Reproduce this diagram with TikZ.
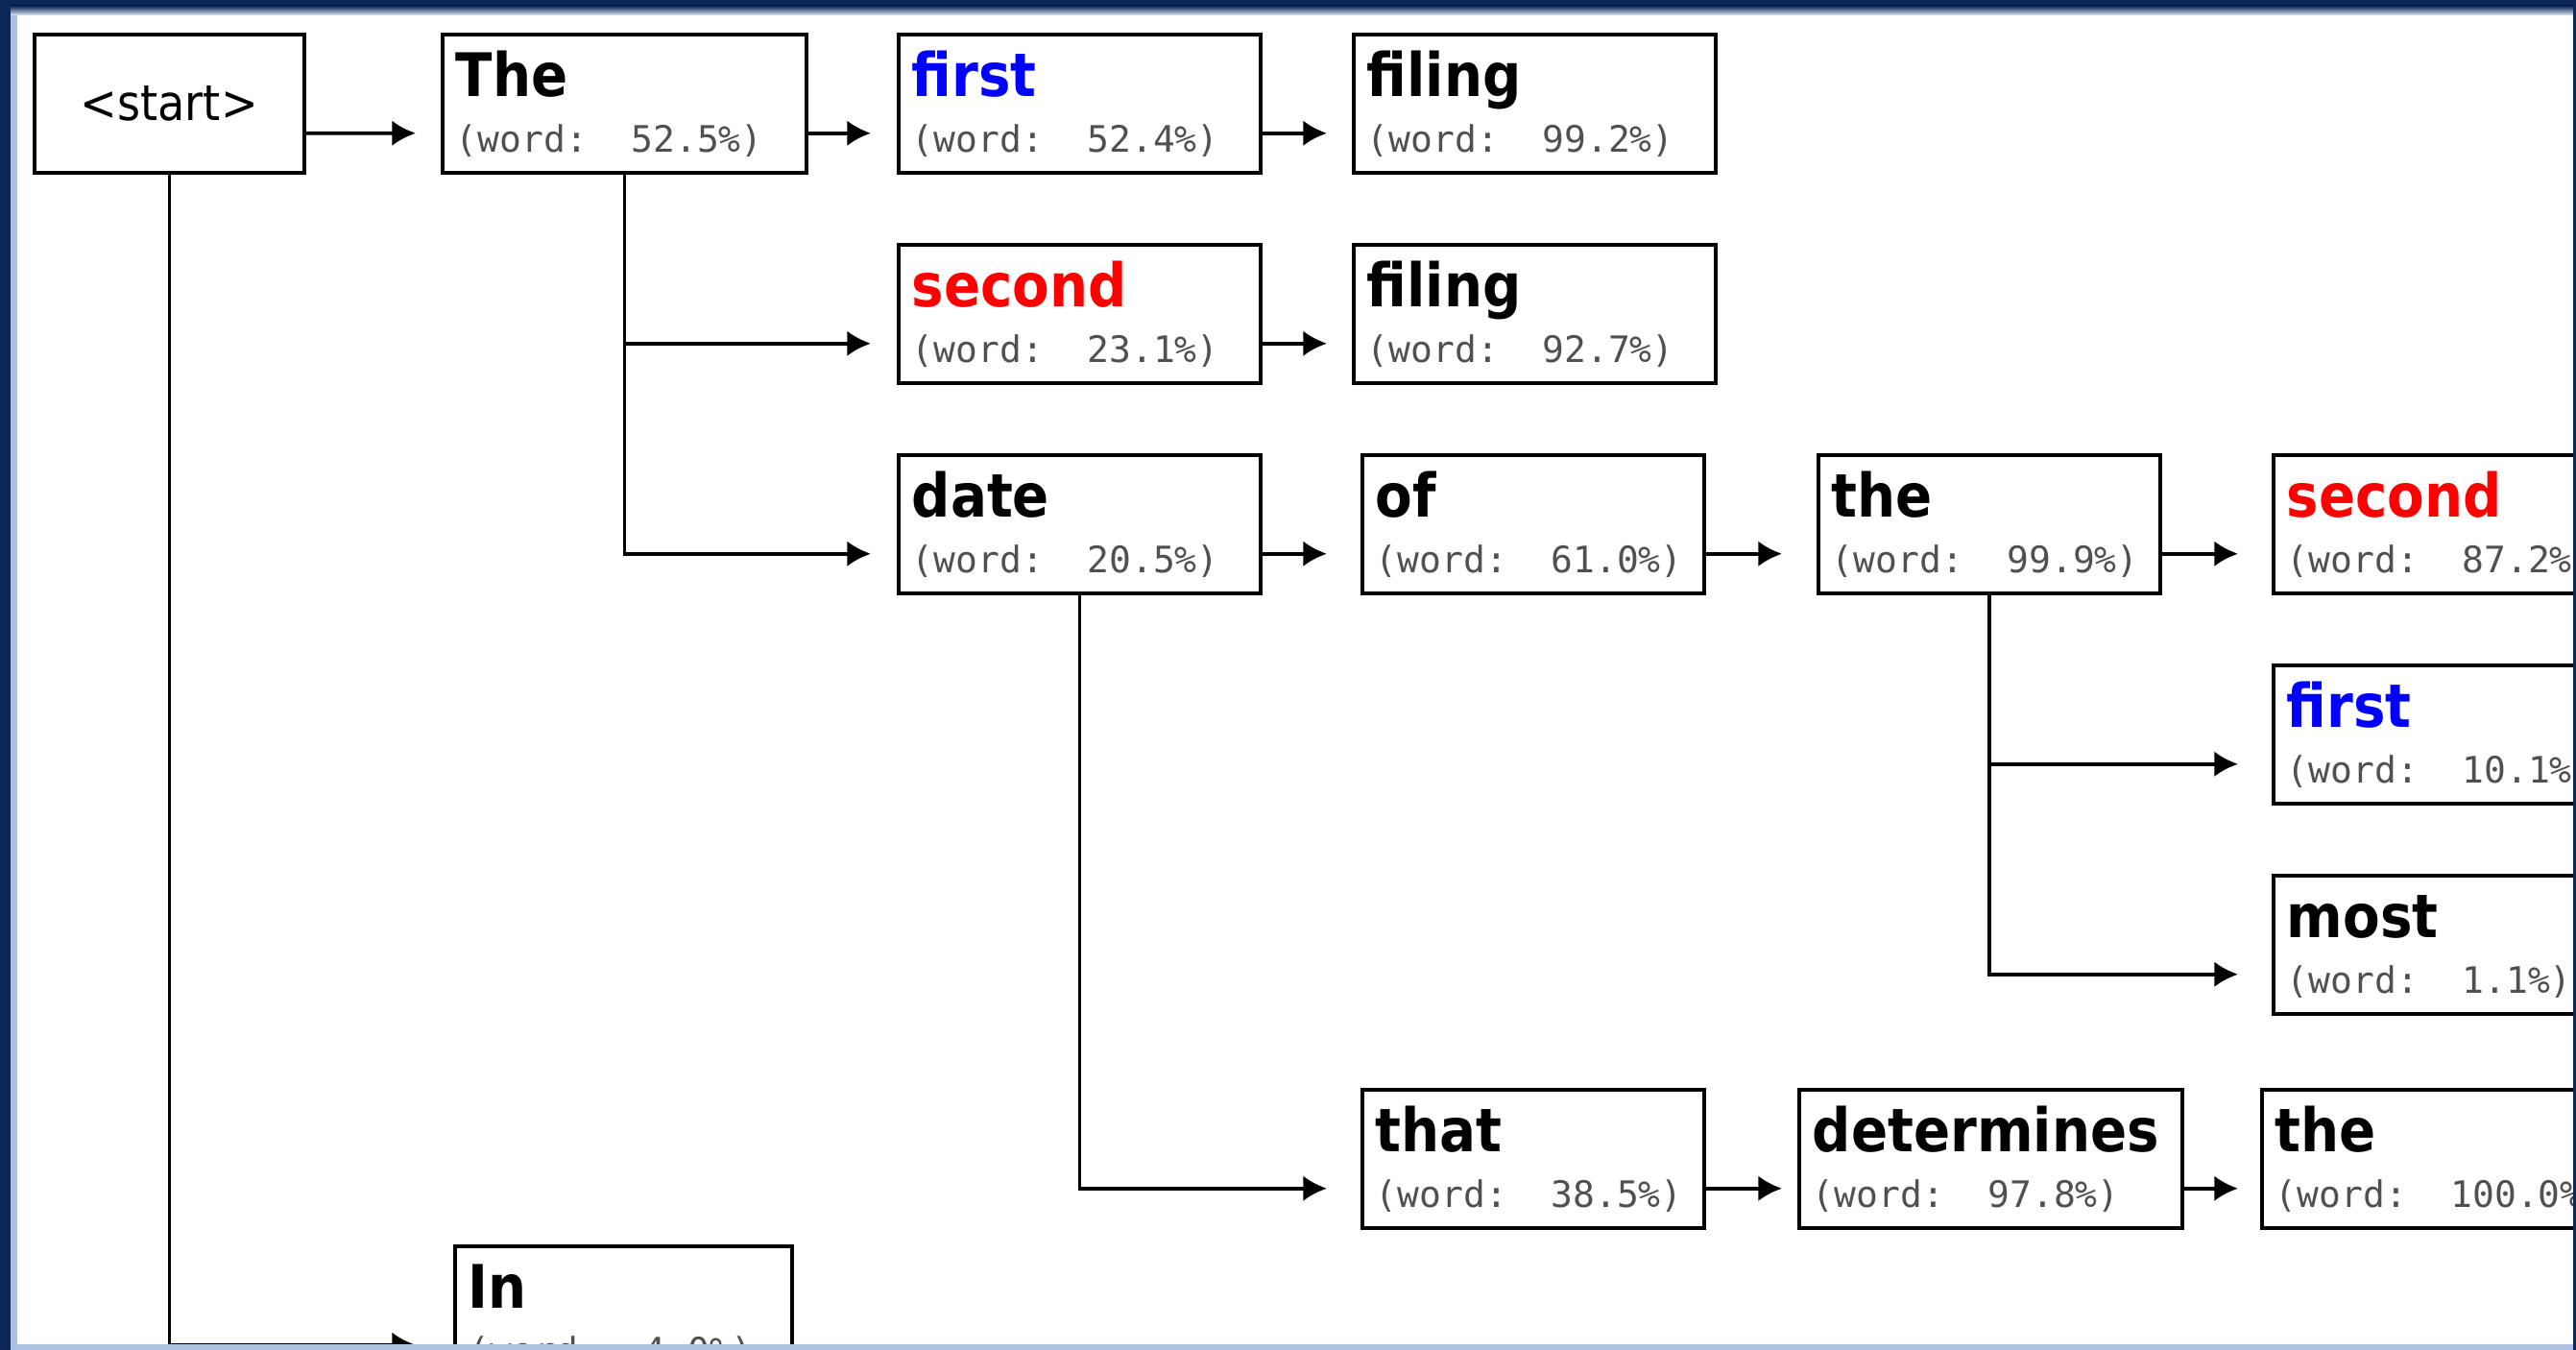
\documentclass[tikz,border=0pt]{standalone}
\usepackage{fontspec}
\usepackage{tikz}
\usetikzlibrary{arrows.meta}
\newfontfamily\wordfont{DejaVu Sans}[FakeStretch=0.9]
\newfontfamily\monofont{DejaVu Sans Mono}
\definecolor{framenavy}{RGB}{12,38,88}
\definecolor{framelight}{RGB}{172,194,226}
\definecolor{subgray}{RGB}{80,80,80}
\tikzstyle{startbox} = [rectangle, draw=black, line width=1pt, anchor=north west, minimum width=2.81cm, minimum height=1.44cm, inner sep=0pt, font=\wordfont\fontsize{14.6}{16}\selectfont]
\tikzstyle{wordbox} = [rectangle, draw=black, line width=1pt, anchor=north west, inner xsep=0.14cm, inner ysep=0pt, text height=0.65cm, text depth=0.79cm, align=left, font=\monofont\fontsize{10.8}{16.5}\selectfont]
\tikzstyle{arrow} = [line width=1pt,->,>={Latex[length=7pt,width=7.5pt]}]
\newcommand{\tok}[3][black]{{\wordfont\fontsize{17.8}{20}\bfseries\color{#1}#2}\\{\color{subgray}(word:\phantom{00}#3\%)}}

\begin{document}
\begin{tikzpicture}
    \useasboundingbox (0,0) rectangle (26.83,-14.06);
    \begin{scope}
    \clip (0.18,-0.16) rectangle (26.80,-14.00);
    \node (start) [startbox] at (0.34,-0.34) {<start>};
    \node (The) [wordbox, text width=3.51cm] at (4.59,-0.34) {\tok{The}{52.5}};
    \node (first) [wordbox, text width=3.49cm] at (9.34,-0.34) {\tok[blue]{first}{52.4}};
    \node (filingA) [wordbox, text width=3.49cm] at (14.08,-0.34) {\tok{filing}{99.2}};
    \node (secondA) [wordbox, text width=3.49cm] at (9.34,-2.53) {\tok[red]{second}{23.1}};
    \node (filingB) [wordbox, text width=3.49cm] at (14.08,-2.53) {\tok{filing}{92.7}};
    \node (date) [wordbox, text width=3.49cm] at (9.34,-4.72) {\tok{date}{20.5}};
    \node (of) [wordbox, text width=3.28cm] at (14.17,-4.72) {\tok{of}{61.0}};
    \node (theA) [wordbox, text width=3.28cm] at (18.92,-4.72) {\tok{the}{99.9}};
    \node (secondB) [wordbox, text width=3.42cm] at (23.66,-4.72) {\tok[red]{second}{87.2}};
    \node (firstB) [wordbox, text width=3.42cm] at (23.66,-6.91) {\tok[blue]{first}{10.1}};
    \node (most) [wordbox, text width=3.42cm] at (23.66,-9.10) {\tok{most}{1.1}};
    \node (that) [wordbox, text width=3.28cm] at (14.17,-11.33) {\tok{that}{38.5}};
    \node (determines) [wordbox, text width=3.71cm] at (18.72,-11.33) {\tok{determines}{97.8}};
    \node (theB) [wordbox, text width=3.42cm] at (23.54,-11.33) {\tok{the}{100.0}};
    \node (In) [wordbox, text width=3.23cm] at (4.72,-12.96) {\tok{In}{4.0}};
    \draw [arrow, shorten >=0.26cm] ([yshift=-0.31cm]start.east) -- ([yshift=-0.31cm]The.west);
    \draw [arrow, shorten >=0.27cm] ([yshift=-0.31cm]The.east) -- ([yshift=-0.31cm]first.west);
    \draw [arrow, shorten >=0.26cm] ([yshift=-0.31cm]first.east) -- ([yshift=-0.31cm]filingA.west);
    \draw [arrow, shorten >=0.27cm] (The.south) |- ([yshift=-0.31cm]secondA.west);
    \draw [arrow, shorten >=0.27cm] (The.south) |- ([yshift=-0.31cm]date.west);
    \draw [arrow, shorten >=0.26cm] ([yshift=-0.31cm]secondA.east) -- ([yshift=-0.31cm]filingB.west);
    \draw [arrow, shorten >=0.35cm] ([yshift=-0.31cm]date.east) -- ([yshift=-0.31cm]of.west);
    \draw [arrow, shorten >=0.36cm] ([yshift=-0.31cm]of.east) -- ([yshift=-0.31cm]theA.west);
    \draw [arrow, shorten >=0.35cm] ([yshift=-0.31cm]theA.east) -- ([yshift=-0.31cm]secondB.west);
    \draw [arrow, shorten >=0.35cm] (theA.south) |- ([yshift=-0.31cm]firstB.west);
    \draw [arrow, shorten >=0.35cm] (theA.south) |- ([yshift=-0.31cm]most.west);
    \draw [arrow, shorten >=0.35cm] (date.south) |- ([yshift=-0.31cm]that.west);
    \draw [arrow, shorten >=0.16cm] ([yshift=-0.31cm]that.east) -- ([yshift=-0.31cm]determines.west);
    \draw [arrow, shorten >=0.23cm] ([yshift=-0.31cm]determines.east) -- ([yshift=-0.31cm]theB.west);
    \draw [arrow, shorten >=0.39cm] (start.south) |- ([yshift=-0.31cm]In.west);
    \end{scope}
    % window frame
    \fill [framenavy] (0,0) rectangle (26.83,-0.06);
    \shade [top color=framenavy, bottom color=framelight!35] (0,-0.06) rectangle (26.83,-0.16);
    \fill [framenavy] (0,0) rectangle (0.11,-14.06);
    \fill [framelight] (0.11,-0.16) rectangle (0.18,-14.00);
    \fill [framenavy] (26.80,0) rectangle (26.83,-14.06);
    \fill [framelight] (0.11,-14.00) rectangle (26.80,-14.06);
\end{tikzpicture}
\end{document}
